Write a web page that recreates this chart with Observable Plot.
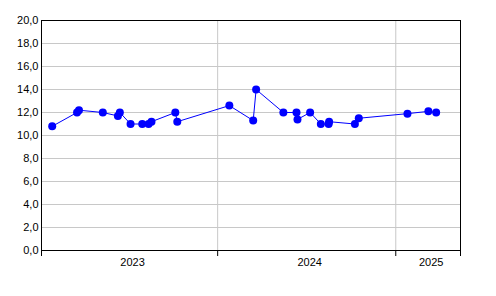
<!DOCTYPE html>
<html>
<head>
<meta charset="utf-8">
<script src="https://cdn.jsdelivr.net/npm/d3@7"></script>
<script src="https://cdn.jsdelivr.net/npm/@observablehq/plot@0.6"></script>
<style>
  html, body { margin: 0; padding: 0; background: #fff; }
  #chart { width: 496px; height: 296px; }
</style>
</head>
<body>
<div id="chart"></div>
<script>
const dates = [
  "2023-01-26","2023-03-18","2023-03-22","2023-05-10","2023-06-10","2023-06-14",
  "2023-07-06","2023-07-30","2023-08-12","2023-08-18","2023-10-06","2023-10-10",
  "2024-01-25","2024-03-14","2024-03-20","2024-05-15","2024-06-11","2024-06-13",
  "2024-07-09","2024-07-31","2024-08-16","2024-08-17","2024-10-09","2024-10-17",
  "2025-01-25","2025-03-09","2025-03-25"
];
const values = [
  10.8, 12.0, 12.2, 12.0, 11.7, 12.0,
  11.0, 11.0, 11.0, 11.2, 12.0, 11.2,
  12.6, 11.3, 14.0, 12.0, 12.0, 11.4,
  12.0, 11.0, 11.0, 11.2, 11.0, 11.5,
  11.9, 12.1, 12.0
];
const xDomain = ["2023-01-04", "2025-05-14"];
const yTicks = [0, 2, 4, 6, 8, 10, 12, 14, 16, 18, 20];
const years = [2023, 2024, 2025];

const parse = d3.utcParse("%Y-%m-%d");
const data = dates.map((d, i) => ({date: parse(d), value: values[i]}));
const d0 = parse(xDomain[0]), d1 = parse(xDomain[1]);
const yearStarts = years.map(y => new Date(Date.UTC(y, 0, 1)));
const innerBounds = yearStarts.filter(d => d > d0 && d < d1);
const tickDates = [d0, ...innerBounds, d1];
const yearLabels = years.map(y => {
  const a = Math.max(+d0, Date.UTC(y, 0, 1));
  const b = Math.min(+d1, Date.UTC(y + 1, 0, 1));
  return {date: new Date((a + b) / 2), label: String(y)};
});
const fmt = v => v.toFixed(1).replace(".", ",");

const chart = Plot.plot({
  width: 496,
  height: 296,
  marginLeft: 41,
  marginRight: 36,
  marginTop: 20,
  marginBottom: 46,
  style: {fontFamily: "'Liberation Sans', Arial, sans-serif", fontSize: "11px", color: "black", background: "white"},
  x: {type: "utc", domain: [d0, d1]},
  y: {domain: [0, 20]},
  marks: [
    Plot.gridY(yTicks, {stroke: "#c8c8c8", strokeOpacity: 1}),
    Plot.gridX(innerBounds, {stroke: "#c8c8c8", strokeOpacity: 1}),
    Plot.axisY(yTicks, {tickSize: 0, tickPadding: 3, tickFormat: fmt, label: null, fill: "black"}),
    Plot.axisX(tickDates, {tickSize: 6, tickFormat: () => "", label: null, stroke: "black"}),
    Plot.text(yearLabels, {x: "date", frameAnchor: "bottom", text: "label", dy: 15, dx: 3, fill: "black", textAnchor: "middle"}),
    Plot.frame({stroke: "black"}),
    Plot.line(data, {x: "date", y: "value", stroke: "#0000ff", strokeWidth: 1}),
    Plot.dot(data, {x: "date", y: "value", r: 4, fill: "#0000ff", stroke: "none"})
  ]
});
document.getElementById("chart").append(chart);
</script>
</body>
</html>
